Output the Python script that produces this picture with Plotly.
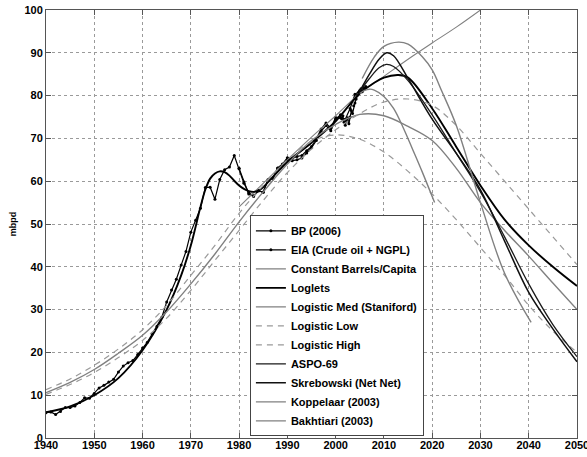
import plotly.graph_objects as go

# ---------------- data (mbpd) ----------------
bp_years = list(range(1940, 2006))
bp_vals = [5.9, 6.1, 5.5, 6.2, 7.1, 7.1, 7.5, 8.3, 9.4, 9.3,
           10.4, 11.7, 12.3, 13.1, 13.7, 15.4, 16.8, 17.6, 18.1, 19.5,
           21.0, 22.4, 24.3, 26.1, 28.2, 31.8, 34.6, 37.1, 40.4, 43.6,
           48.1, 50.9, 53.7, 58.5, 58.6, 55.8, 60.4, 62.7, 63.3, 66.0,
           62.9, 59.5, 57.3, 56.6, 57.7, 57.5, 60.4, 60.8, 63.1, 64.0,
           65.5, 65.3, 65.8, 66.0, 67.1, 68.1, 69.9, 72.2, 73.6, 72.3,
           74.9, 74.8, 74.5, 77.0, 80.3, 81.1]

eia_years = [1980, 1981, 1982, 1983, 1984, 1985, 1986, 1987, 1988, 1989,
             1990, 1991, 1992, 1993, 1994, 1995, 1996, 1997, 1998, 1999,
             2000, 2001.0, 2001.25, 2001.5, 2001.75, 2002.0, 2002.25, 2002.5,
             2002.75, 2003.0, 2003.25, 2003.5, 2003.75, 2004.0, 2004.25,
             2004.5, 2004.75, 2005.0, 2005.25, 2005.5, 2005.75, 2006.0, 2006.25]
eia_vals = [63.0, 59.8, 57.0, 56.4, 57.8, 57.4, 60.3, 60.6, 63.0, 63.9,
            65.0, 64.8, 65.0, 65.4, 66.6, 67.8, 69.5, 71.7, 73.0, 71.8,
            74.5, 75.5, 74.6, 75.3, 73.8, 73.1, 74.0, 74.8, 73.4, 75.0,
            76.5, 75.8, 77.6, 78.3, 79.2, 80.1, 80.8, 81.2, 81.6, 80.9,
            81.9, 81.6, 82.1]

cbc_years = [1980, 1985, 1990, 1995, 2000, 2005, 2010, 2015, 2020, 2025, 2030]
cbc_vals = [54.0, 59.5, 65.0, 70.3, 75.3, 80.5, 84.5, 88.5, 92.3, 96.0, 100.0]

loglets_years = [1940, 1945, 1950, 1955, 1960, 1965, 1968, 1970, 1972, 1973,
                 1974, 1975, 1976, 1977, 1978, 1979, 1980, 1981, 1982, 1983,
                 1984, 1985, 1987, 1990, 1995, 2000, 2003, 2005, 2008, 2010,
                 2013, 2015, 2020, 2025, 2030, 2035, 2040, 2045, 2050]
loglets_vals = [6.0, 7.4, 10.0, 14.0, 20.5, 30.0, 38.0, 45.0, 54.0, 58.0,
                60.6, 61.8, 62.3, 62.1, 61.3, 60.1, 59.0, 58.2, 57.7, 57.5,
                57.8, 58.6, 61.0, 64.5, 69.0, 74.0, 78.0, 80.5, 83.0, 84.2,
                84.8, 84.2, 77.0, 68.0, 59.0, 51.0, 45.0, 40.0, 35.5]

log_years = [1940, 1945, 1950, 1955, 1960, 1965, 1970, 1975, 1980, 1985,
             1990, 1995, 2000, 2005, 2010, 2015, 2020, 2025, 2030, 2035,
             2040, 2045, 2050]
log_med = [10.6, 13.0, 16.0, 19.8, 24.0, 29.5, 36.0, 43.0, 50.5, 57.5,
           64.0, 69.5, 73.3, 75.6, 75.3, 72.8, 69.5, 63.0, 55.0, 48.5,
           42.5, 36.2, 30.0]
log_low = [11.3, 13.8, 17.0, 20.8, 25.3, 31.0, 38.0, 45.0, 52.5, 59.0,
           65.0, 69.3, 70.8, 69.8, 66.8, 62.3, 57.0, 51.0, 44.5, 38.0,
           31.0, 25.0, 20.0]
log_high = [10.2, 12.5, 15.3, 18.8, 22.8, 28.0, 34.5, 41.5, 48.5, 55.5,
            62.0, 67.5, 72.0, 75.8, 78.5, 79.2, 77.7, 73.0, 66.5, 60.0,
            53.5, 47.0, 40.5]

aspo_years = [2005, 2007, 2009, 2010.5, 2012, 2015, 2020, 2025, 2030, 2035,
              2040, 2045, 2050]
aspo_vals = [81.0, 84.0, 86.5, 87.3, 86.8, 83.5, 75.5, 66.5, 57.5, 47.0,
             36.0, 26.5, 19.0]

skreb_years = [2005, 2007, 2009, 2010.6, 2012, 2015, 2020, 2025, 2030, 2035,
               2040, 2045, 2050]
skreb_vals = [81.0, 85.0, 88.5, 90.0, 89.3, 84.0, 74.5, 66.5, 58.0, 46.0,
              34.0, 25.5, 17.8]

kopp_years = [2005.5, 2008, 2010, 2013, 2015, 2018, 2020, 2022, 2025, 2030,
              2035, 2040.5]
kopp_vals = [84.0, 89.0, 91.5, 92.5, 92.0, 89.0, 86.0, 81.0, 73.0, 55.0,
             38.5, 27.0]

bakh_years = [2005, 2006, 2007, 2008, 2010, 2012, 2014, 2016, 2018, 2020.5]
bakh_vals = [80.5, 81.2, 81.5, 81.3, 79.8, 77.0, 72.5, 67.3, 62.0, 55.0]

x_ticks = list(range(1940, 2051, 10))
y_ticks = list(range(0, 101, 10))

# ---------------- styles ----------------
BLACK = "#000000"
GRAY = "#808080"
FONT = "Liberation Sans, Arial, sans-serif"

fig = go.Figure()

def add(name, x, y, color, width=1.2, dash="solid", shape="spline", markers=False):
    fig.add_trace(go.Scatter(
        x=x, y=y, name=name,
        mode="lines+markers" if markers else "lines",
        line=dict(color=color, width=width, dash=dash, shape=shape),
        marker=dict(size=3, color=color) if markers else None,
    ))

add("BP (2006)", bp_years, bp_vals, BLACK, 1.2, shape="linear", markers=True)
add("EIA (Crude oil + NGPL)", eia_years, eia_vals, BLACK, 1.2, shape="linear", markers=True)
add("Constant Barrels/Capita", cbc_years, cbc_vals, GRAY, 1.1)
add("Loglets", loglets_years, loglets_vals, BLACK, 1.9)
add("Logistic Med (Staniford)", log_years, log_med, GRAY, 1.4)
add("Logistic Low", log_years, log_low, "#999999", 1.2, dash="6px,5px")
add("Logistic High", log_years, log_high, "#999999", 1.2, dash="6px,5px")
add("ASPO-69", aspo_years, aspo_vals, "#1a1a1a", 1.3)
add("Skrebowski (Net Net)", skreb_years, skreb_vals, "#111111", 1.5)
add("Koppelaar (2003)", kopp_years, kopp_vals, GRAY, 1.4)
add("Bakhtiari (2003)", bakh_years, bakh_vals, GRAY, 1.4)

axis_common = dict(
    showline=True, linecolor="#555555", linewidth=1, mirror="ticks",
    ticks="inside", ticklen=5, tickcolor="#555555", tickwidth=1,
    showgrid=True, gridcolor="#9a9a9a", gridwidth=1, griddash="dot",
    zeroline=False, ticklabeloverflow="allow",
    tickfont=dict(family=FONT, size=11, color="#000000", weight="bold"),
)

fig.update_layout(
    width=587, height=457,
    margin=dict(l=46, r=10, t=10, b=19),
    paper_bgcolor="white", plot_bgcolor="white",
    showlegend=True,
    legend=dict(
        x=0.384, y=0.262, xanchor="left", yanchor="middle",
        bgcolor="white", bordercolor="#444444", borderwidth=1,
        font=dict(family=FONT, size=11, color="#000000", weight="bold"),
        itemwidth=30, tracegroupgap=0,
    ),
    xaxis=dict(range=[1940, 2050], tickvals=x_ticks, automargin=False,
               ticklabelstandoff=-3, **axis_common),
    yaxis=dict(range=[0, 100], tickvals=y_ticks, automargin=False,
               title=dict(text="mbpd", standoff=6,
                          font=dict(family=FONT, size=9, color="#000000", weight="bold")),
               **axis_common),
)

fig.write_html(
    "out.html",
    config={"displayModeBar": False},
    post_script="document.body.style.margin='0';document.body.style.overflow='hidden';",
)
